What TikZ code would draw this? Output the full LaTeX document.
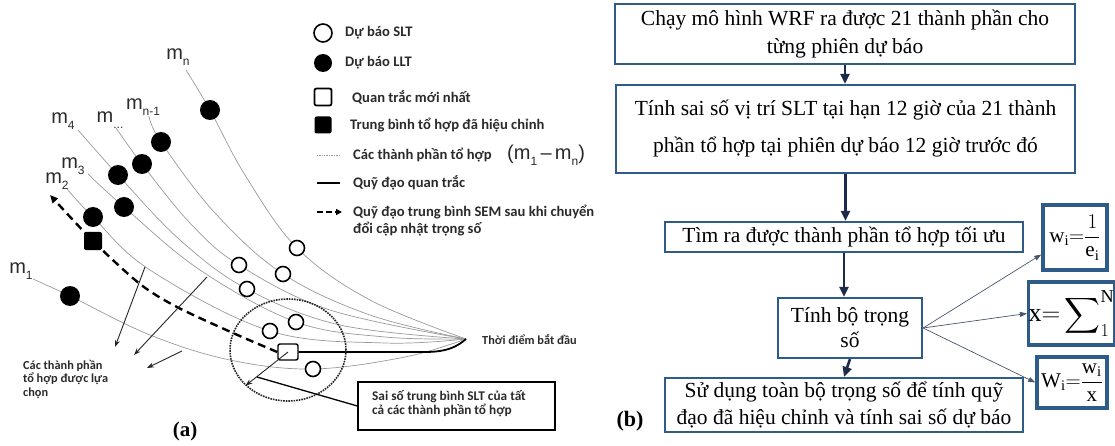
\RequirePackage{fix-cm}
\documentclass[tikz,border=0pt]{standalone}
\usepackage{amsmath}
\usepackage{fontspec}
\setmainfont{Liberation Serif}
\newfontfamily\calib{Carlito}
\newfontfamily\arialf{Liberation Sans}
\usetikzlibrary{arrows.meta,shapes.geometric,backgrounds}
\definecolor{boxblue}{HTML}{2F5B88}
\definecolor{navyc}{HTML}{1C2B4A}
\definecolor{curvegray}{HTML}{9A9A9A}
\definecolor{txtgray}{HTML}{2A2A2A}
\newcommand\msb[1]{\raisebox{-0.3em}{\fontsize{12}{12}\selectfont #1}}
\begin{document}
\begin{tikzpicture}[x=1pt,y=-1pt,
 lbl/.style={font=\calib\bfseries\fontsize{14.6}{17}\selectfont, text=txtgray, anchor=west, inner sep=0},
 slbl/.style={font=\calib\bfseries\fontsize{12.3}{13.5}\selectfont, text=txtgray, anchor=west, inner sep=0, align=left},
 mlbl/.style={font=\arialf\fontsize{20}{22}\selectfont, text=txtgray, inner sep=0},
 curve/.style={curvegray, line width=0.7pt},
 dotf/.style={circle, fill=black, minimum size=20pt, inner sep=0},
 doto/.style={circle, draw=black, fill=white, line width=1.6pt, minimum size=15pt, inner sep=0},
 obsq/.style={draw=black, line width=1.4pt, minimum width=20pt, minimum height=16pt, rounded corners=2pt, inner sep=0},
 semsq/.style={fill=black, minimum size=18pt, rounded corners=2pt, inner sep=0},
 selarrow/.style={black!85, line width=0.9pt, -{Stealth[length=7pt,width=5pt]}},
 semdash/.style={black, line width=2.4pt, dash pattern=on 8pt off 5pt, -{Triangle[length=8pt,width=7pt]}},
 obsline/.style={black, line width=1.8pt},
 fbox/.style={draw=boxblue, line width=2.2pt, align=center, inner sep=0, font=\fontsize{21.5}{28}\selectfont},
 formbox/.style={draw=boxblue, line width=3.5pt, inner sep=0, font=\fontsize{21}{22}\selectfont},
 flow/.style={navyc, line width=2.6pt, -{Triangle[length=10pt,width=9pt]}},
 farrow/.style={navyc!80, line width=0.7pt, -{Triangle[length=7pt,width=5pt]}}
]
\useasboundingbox (0,0) rectangle (1115,446);

% ---------------- panel (a) ----------------
% legend
\node[doto, minimum size=18pt] (lg1) at (323,33) {};
\node[lbl] (lt1) at (345,33) {Dự báo SLT};
\node[dotf, minimum size=18pt] (lg2) at (323,63) {};
\node[lbl] (lt2) at (345,63) {Dự báo LLT};
\node[obsq, minimum width=17pt, minimum height=17pt, line width=1.8pt] (lg3) at (323,97) {};
\node[lbl] (lt3) at (352,97) {Quan trắc mới nhất};
\node[semsq, minimum size=17pt] (lg4) at (323,125) {};
\node[lbl] (lt4) at (350,125) {Trung bình tổ hợp đã hiệu chỉnh};
\coordinate (lg5a) at (317,155); \coordinate (lg5b) at (340,155);
\draw[curve, densely dotted] (lg5a) -- (lg5b);
\node[lbl] (lt5) at (353,155) {Các thành phần tổ hợp};
\node[mlbl, anchor=west] (lt5m) at (507,155) {(m\msb{1}\,–\,m\msb{n})};
\coordinate (lg6a) at (317,183); \coordinate (lg6b) at (340,183);
\draw[obsline, line width=2.5pt] (lg6a) -- (lg6b);
\node[lbl] (lt6) at (353,183) {Quỹ đạo quan trắc};
\coordinate (lg7a) at (317,212); \coordinate (lg7b) at (342,212);
\draw[black, line width=2.2pt, dash pattern=on 6pt off 3pt, -{Triangle[length=6pt,width=6pt]}] (lg7a) -- (lg7b);
\node[lbl] (lt7) at (353,212) {Quỹ đạo trung bình SEM sau khi chuyển};
\node[lbl] (lt8) at (353,229) {đổi cập nhật trọng số};

% member labels
\node[mlbl] (ln) at (178,57) {m\msb{n}};
\node[mlbl] (ln1) at (143,107) {m\msb{n-1}};
\node[mlbl] (ldots) at (110,120) {m\msb{...}};
\node[mlbl] (l4) at (63,121) {m\msb{4}};
\node[mlbl] (l3) at (73,166) {m\msb{3}};
\node[mlbl] (l2) at (57,181) {m\msb{2}};
\node[mlbl] (l1) at (21,271) {m\msb{1}};

\coordinate (start) at (466,339);
\node[slbl] (startlbl) at (482,340) {Thời điểm bắt đầu};

% filled dots (LLT)
\node[dotf] (dn) at (210,110) {};
\node[dotf] (dn1) at (161,142) {};
\node[dotf] (ddots) at (142,164) {};
\node[dotf] (d4) at (118,175) {};
\node[dotf] (d3) at (124,207) {};
\node[dotf] (d2) at (93,217) {};
\node[dotf] (d1) at (70,296) {};

% open circles (SLT)
\node[doto] (on) at (297,248) {};
\node[doto] (on1) at (283,274) {};
\node[doto] (odots) at (239,265) {};
\node[doto] (o4) at (247,289) {};
\node[doto] (o3) at (296,322) {};
\node[doto] (o2) at (270,331) {};
\node[doto] (o1) at (313,369) {};

% observation and mean squares
\node[obsq] (obs) at (288,352) {};
\node[semsq] (sem) at (93,241) {};
\coordinate (semtip) at (50,195);

% error circle
\node[draw=black!85, densely dotted, line width=1.6pt, ellipse, minimum width=116pt, minimum height=102pt] (err) at (288,350) {};

\begin{scope}[on background layer]
\draw[curve] plot[smooth, tension=0.6] coordinates {(186,70) (dn) (245,175) (on) (370,300) (start)};
\draw[curve] plot[smooth, tension=0.6] coordinates {(149,116) (dn1) (215,213) (on1) (370,315) (start)};
\draw[curve] plot[smooth, tension=0.6] coordinates {(116,128) (ddots) (190,223) (odots) (330,310) (start)};
\draw[curve] plot[smooth, tension=0.6] coordinates {(78,130) (d4) (180,240) (o4) (340,325) (start)};
\draw[curve] plot[smooth, tension=0.6] coordinates {(88,174) (d3) (200,270) (o3) (385,337) (start)};
\draw[curve] plot[smooth, tension=0.6] coordinates {(67,189) (d2) (150,270) (o2) (385,343) (start)};
\draw[curve] plot[smooth, tension=0.6] coordinates {(33,279) (d1) (150,335) (230,360) (o1) (405,357) (start)};
\draw[semdash] plot[smooth, tension=0.5] coordinates {(obs.west) (233,333) (177,307) (140,284) (sem) (semtip)};
\draw[obsline] (obs.east) -- (425,352) .. controls (448,352) and (458,346) .. (start);
\end{scope}

% selected members arrows
\coordinate (s1a) at (145,267); \coordinate (s1b) at (115,347);
\coordinate (s2a) at (207,277); \coordinate (s2b) at (134,355);
\coordinate (s3a) at (182,351); \coordinate (s3b) at (147,368);
\draw[selarrow] (s1a) -- (s1b);
\draw[selarrow] (s2a) -- (s2b);
\draw[selarrow] (s3a) -- (s3b);
\node[slbl, anchor=north west] (seltxt) at (23,360) {Các thành phần\\tổ hợp được lựa\\chọn};

% error box
\node[draw=black, line width=1.3pt, minimum width=197pt, minimum height=48pt, inner sep=0] (sai) at (456.5,406) {};
\node[slbl, font=\calib\bfseries\fontsize{13.3}{14}\selectfont, anchor=west] (saitxt) at (372,404) {Sai số trung bình SLT của tất\\cả các thành phần tổ hợp};
\draw[selarrow] (obs.center) -- (err.220);
\coordinate (errpt) at (257,377);
\draw[black, line width=1.3pt] (errpt) -- (sai.west);

\node[font=\bfseries\fontsize{21}{24}\selectfont, inner sep=0] (capa) at (185,431) {(a)};

% ---------------- panel (b) ----------------
\node[fbox, minimum width=460pt, minimum height=60pt] (b1) at (845,34) {Chạy mô hình WRF ra được 21 thành phần cho\\từng phiên dự báo};
\node[fbox, minimum width=459pt, minimum height=88pt, font=\fontsize{21.5}{37}\selectfont] (b2) at (845.5,129) {Tính sai số vị trí SLT tại hạn 12 giờ của 21 thành\\phần tổ hợp tại phiên dự báo 12 giờ trước đó};
\node[fbox, minimum width=358pt, minimum height=30pt] (b3) at (844,237) {Tìm ra được thành phần tổ hợp tối ưu};
\node[fbox, minimum width=144pt, minimum height=60pt, font=\fontsize{21.5}{25}\selectfont] (b4) at (850,328) {Tính bộ trọng\\số};
\node[fbox, minimum width=358pt, minimum height=54pt, font=\fontsize{21.5}{27}\selectfont] (b5) at (844,405) {Sử dụng toàn bộ trọng số để tính quỹ\\đạo đã hiệu chỉnh và tính sai số dự báo};

\draw[flow] (b1.south) -- (b1.south |- b2.north);
\draw[flow] (b2.south) -- (b2.south |- b3.north);
\draw[flow] (b3.south) -- (b3.south |- b4.north);
\draw[flow] (b4.south) -- (b5.north);

\node[formbox, minimum width=64pt, minimum height=65pt] (f1) at (1075,237.5) {$\mathrm{w}_{\mathrm{i}}{=}\dfrac{1}{\mathrm{e}_{\mathrm{i}}}$};
\node[formbox, minimum width=83pt, minimum height=63pt, font=\fontsize{26}{30}\selectfont] (f2) at (1071.5,313.5) {$\mathrm{x}{=}\displaystyle\sum\nolimits_{1}^{\mathrm{N}}$};
\node[formbox, minimum width=70pt, minimum height=51pt] (f3) at (1072,382.5) {$\mathrm{W}_{\mathrm{i}}{=}\dfrac{\mathrm{w}_{\mathrm{i}}}{\mathrm{x}}$};

\draw[farrow] (b4.east) -- ([yshift=-17pt]f1.west);
\draw[farrow] (b4.east) -- (f2.west);
\draw[farrow] (b4.east) -- (f3.west);

\node[font=\bfseries\fontsize{22}{24}\selectfont, inner sep=0] (capb) at (630,421) {(b)};
\end{tikzpicture}
\end{document}
